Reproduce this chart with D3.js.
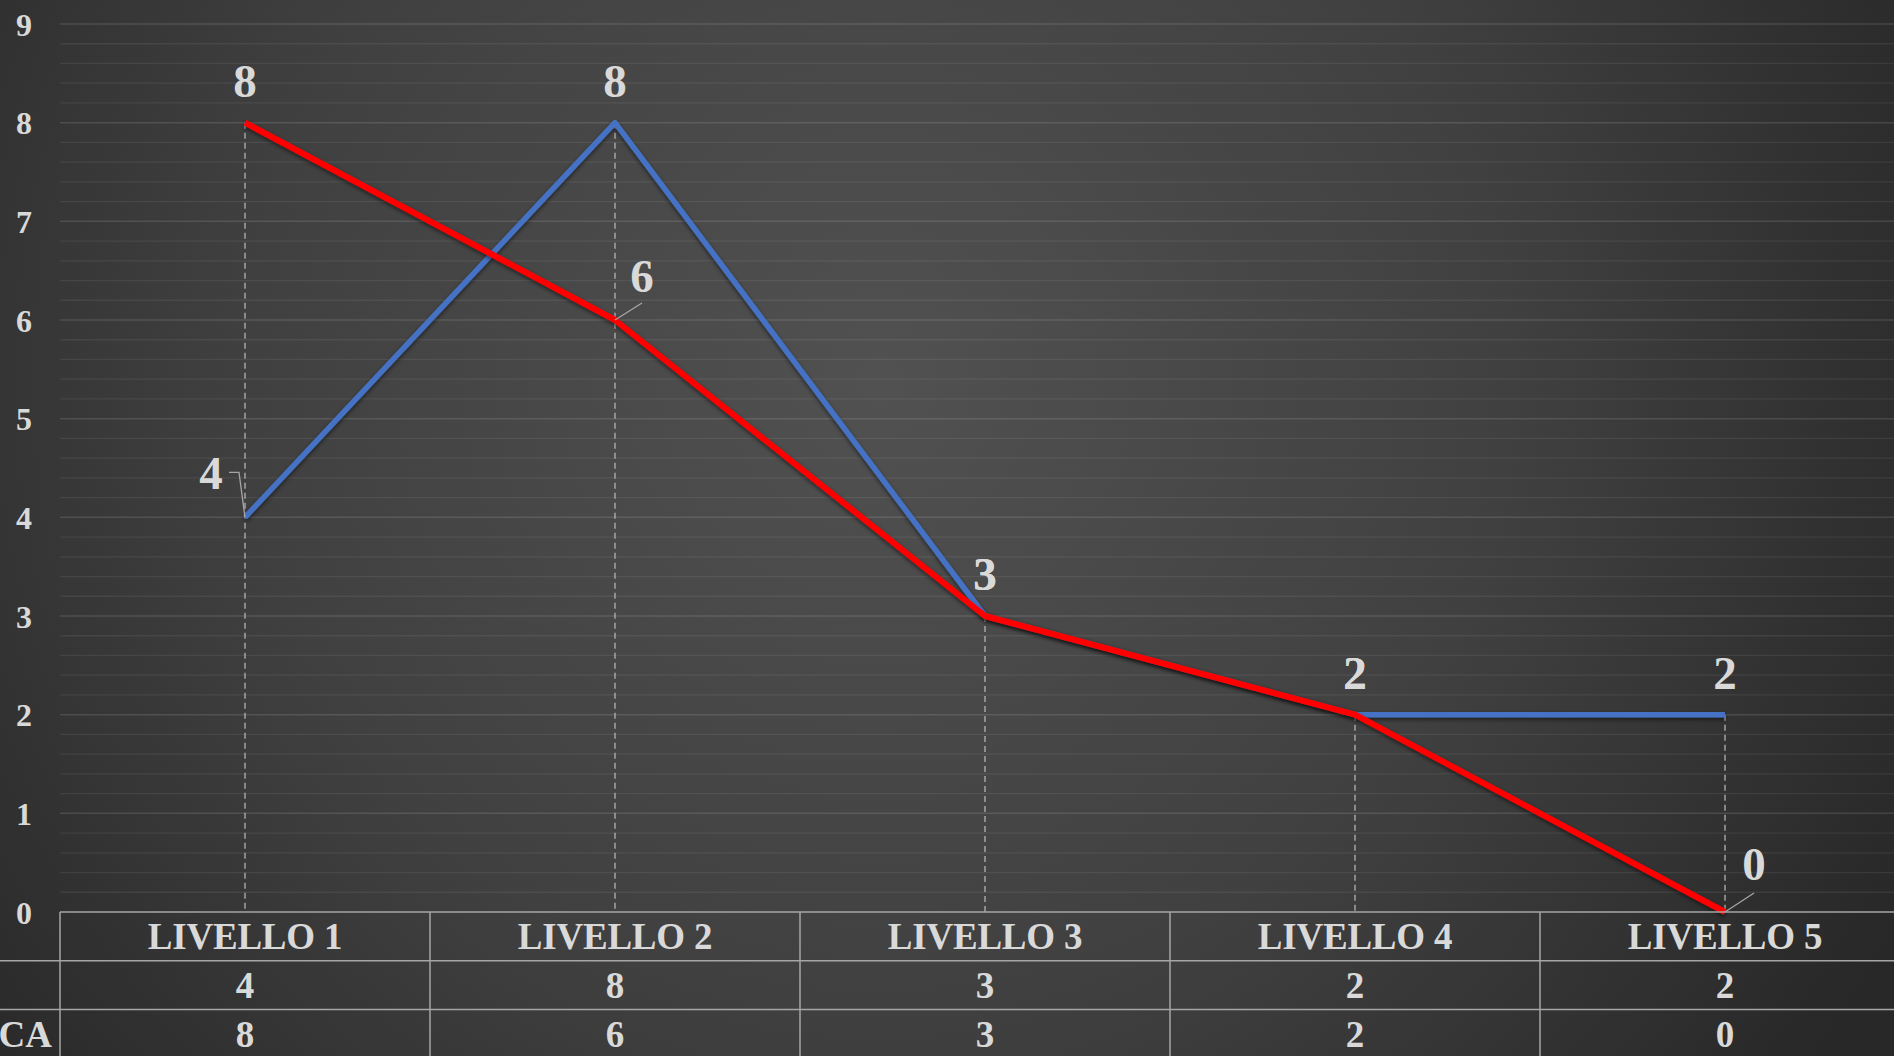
<!DOCTYPE html>
<html>
<head>
<meta charset="utf-8">
<script src="https://cdn.jsdelivr.net/npm/d3@7"></script>
<style>
  html, body { margin: 0; padding: 0; background: #333; overflow: hidden; }
  svg { display: block; }
</style>
</head>
<body>
<svg id="chart" width="1894" height="1056"></svg>
<script>
// ---- data ----
const categories = ["LIVELLO 1", "LIVELLO 2", "LIVELLO 3", "LIVELLO 4", "LIVELLO 5"];
const seriesBlue = [4, 8, 3, 2, 2];
const seriesRed = [8, 6, 3, 2, 0];
const seriesNames = ["", "CA"];
const yTicks = [0, 1, 2, 3, 4, 5, 6, 7, 8, 9];

// ---- layout ----
const W = 1894, H = 1056;
const plot = { left: 60, right: 1910, top: 24, bottom: 912 };
const rowH = 48.7;
const font = "'Liberation Serif', 'Times New Roman', serif";
const txt = "#d9d9d9";

const svg = d3.select("#chart");
const defs = svg.append("defs");
const grad = defs.append("radialGradient").attr("id", "bg")
  .attr("gradientUnits", "userSpaceOnUse")
  .attr("cx", 880).attr("cy", 380).attr("r", 1150);
grad.append("stop").attr("offset", "0%").attr("stop-color", "#515151");
grad.append("stop").attr("offset", "55%").attr("stop-color", "#404040");
grad.append("stop").attr("offset", "100%").attr("stop-color", "#282828");
const shadow = defs.append("filter").attr("id", "shadow")
  .attr("x", "-10%").attr("y", "-10%").attr("width", "120%").attr("height", "120%");
shadow.append("feDropShadow").attr("dx", 0).attr("dy", 2).attr("stdDeviation", 2)
  .attr("flood-color", "#000").attr("flood-opacity", 0.55);

svg.append("rect").attr("width", W).attr("height", H).attr("fill", "url(#bg)");

const x = d3.scaleBand().domain(categories).range([plot.left, plot.right]);
const y = d3.scaleLinear().domain([0, 9]).range([plot.bottom, plot.top]);
const cx = c => x(c) + x.bandwidth() / 2;

// minor gridlines
const minor = d3.range(0, 9.0001, 0.2).filter(v => Math.abs(v - Math.round(v)) > 1e-6);
svg.append("g").selectAll("line").data(minor).join("line")
  .attr("x1", plot.left).attr("x2", W)
  .attr("y1", d => y(d)).attr("y2", d => y(d))
  .attr("stroke", "rgba(255,255,255,0.07)").attr("stroke-width", 1.3);
// major gridlines
svg.append("g").selectAll("line").data(yTicks.filter(d => d > 0)).join("line")
  .attr("x1", plot.left).attr("x2", W)
  .attr("y1", d => y(d)).attr("y2", d => y(d))
  .attr("stroke", "rgba(255,255,255,0.12)").attr("stroke-width", 1.5);

// y axis labels
const yAxis = d3.axisLeft(y).tickValues(yTicks).tickSize(0).tickPadding(0);
const yg = svg.append("g").attr("transform", "translate(24,0)").call(yAxis);
yg.select(".domain").remove();
yg.selectAll("text")
  .attr("x", 0).attr("text-anchor", "middle").attr("dy", "0.35em")
  .attr("fill", txt).attr("font-family", font).attr("font-weight", "bold").attr("font-size", 32);

// drop lines
svg.append("g").selectAll("line").data(categories).join("line")
  .attr("x1", d => cx(d)).attr("x2", d => cx(d))
  .attr("y1", (d, i) => y(Math.max(seriesBlue[i], seriesRed[i])))
  .attr("y2", plot.bottom)
  .attr("stroke", "#bdbdbd").attr("stroke-width", 1.2).attr("stroke-dasharray", "6,4");

// lines
const line = d3.line().x((d, i) => cx(categories[i])).y(d => y(d));
svg.append("path").datum(seriesBlue).attr("d", line)
  .attr("fill", "none").attr("stroke", "#4472C4").attr("stroke-width", 5.5)
  .attr("stroke-linejoin", "round").attr("filter", "url(#shadow)");
svg.append("path").datum(seriesRed).attr("d", line)
  .attr("fill", "none").attr("stroke", "#FF0000").attr("stroke-width", 6)
  .attr("stroke-linejoin", "round").attr("filter", "url(#shadow)");

// data labels (offset layout, text = value)
const labelLayout = {
  blue: [ {dx: -34, dy: -28, leader: [[-16, -45], [-6, -45], [0, 0]]}, {dx: 0, dy: -26}, {dx: 0, dy: -26}, {dx: 0, dy: -26}, {dx: 0, dy: -26} ],
  red:  [ {dx: 0, dy: -26}, {dx: 27, dy: -28, leader: [[27, -17], [0, 0]]}, {dx: 0, dy: -26}, {dx: 0, dy: -26}, {dx: 29, dy: -32, leader: [[29, -19], [0, 0]]} ]
};
function drawLabels(vals, layout) {
  const g = svg.append("g");
  vals.forEach((v, i) => {
    const px = cx(categories[i]), py = y(v), L = layout[i];
    if (L.leader) {
      const pts = L.leader.map(p => [px + p[0], py + p[1]]);
      g.append("path").attr("d", d3.line()(pts))
        .attr("fill", "none").attr("stroke", "#a6a6a6").attr("stroke-width", 1.3);
    }
    g.append("text").attr("x", px + L.dx).attr("y", py + L.dy)
      .attr("text-anchor", "middle").attr("fill", txt)
      .attr("font-family", font).attr("font-weight", "bold").attr("font-size", 47)
      .text(v);
  });
}
drawLabels(seriesBlue, labelLayout.blue);
drawLabels(seriesRed, labelLayout.red);

// data table
const tg = svg.append("g");
const tStroke = "#a6a6a6";
const rowsY = [plot.bottom, plot.bottom + rowH, plot.bottom + 2 * rowH, plot.bottom + 3 * rowH];
tg.append("line").attr("x1", plot.left).attr("x2", W).attr("y1", rowsY[0]).attr("y2", rowsY[0])
  .attr("stroke", tStroke).attr("stroke-width", 1.5);
[rowsY[1], rowsY[2]].forEach(ry => tg.append("line").attr("x1", 0).attr("x2", W)
  .attr("y1", ry).attr("y2", ry).attr("stroke", tStroke).attr("stroke-width", 1.5));
const colEdges = categories.map(c => x(c));
tg.selectAll("line.v").data(colEdges).join("line").attr("class", "v")
  .attr("x1", d => d).attr("x2", d => d).attr("y1", rowsY[0]).attr("y2", H)
  .attr("stroke", tStroke).attr("stroke-width", 1.5);

const tFont = 37;
tg.selectAll("text.cat").data(categories).join("text").attr("class", "cat")
  .attr("x", d => cx(d)).attr("y", (rowsY[0] + rowsY[1]) / 2).attr("dy", "0.35em")
  .attr("text-anchor", "middle").attr("fill", txt).attr("font-family", font)
  .attr("font-weight", "bold").attr("font-size", tFont).attr("letter-spacing", -0.2).text(d => d);
[seriesBlue, seriesRed].forEach((vals, r) => {
  const ry = (rowsY[r + 1] + rowsY[r + 2]) / 2;
  tg.selectAll(null).data(vals).join("text")
    .attr("x", (d, i) => cx(categories[i])).attr("y", ry).attr("dy", "0.35em")
    .attr("text-anchor", "middle").attr("fill", txt).attr("font-family", font)
    .attr("font-weight", "bold").attr("font-size", tFont).text(d => d);
  tg.append("text").attr("x", 52).attr("y", ry).attr("dy", "0.35em")
    .attr("text-anchor", "end").attr("fill", txt).attr("font-family", font)
    .attr("font-weight", "bold").attr("font-size", tFont).text(seriesNames[r]);
});
</script>
</body>
</html>
